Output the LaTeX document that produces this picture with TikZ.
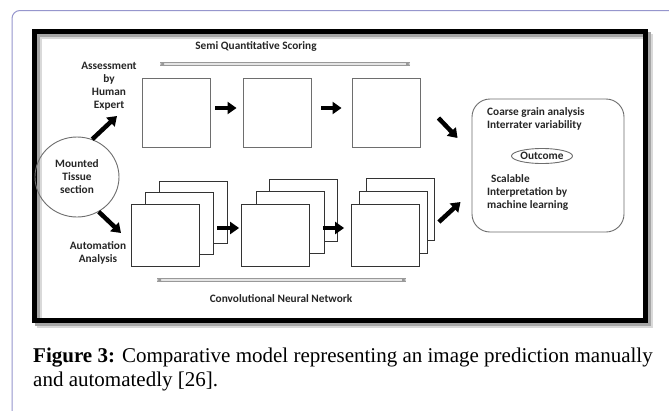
\documentclass[tikz,border=0pt]{standalone}
\usepackage{fontspec}
\setmainfont{Liberation Serif}
\newfontfamily\calfont{Carlito}
\usetikzlibrary{arrows.meta,shapes.geometric,calc}
\definecolor{framepurple}{RGB}{150,150,205}
\definecolor{boxgray}{RGB}{110,110,110}
\begin{document}
\begin{tikzpicture}[x=1pt,y=-1pt,
  lbl/.style={font=\calfont\bfseries\fontsize{11.3}{13}\selectfont, inner sep=0pt, align=center, text=black!85},
  card/.style={draw=boxgray, line width=0.9pt, fill=white, minimum width=68pt, minimum height=69pt, inner sep=0pt},
  sheet/.style={draw=black!80, line width=0.8pt, fill=white, minimum width=68pt, minimum height=62pt, inner sep=0pt},
  blk/.style={line width=4.5pt, -{Triangle[length=9pt,width=12pt]}},
  dbl/.style={draw=gray!80, double=gray!20, double distance=1.4pt, line width=0.9pt},
  dtip/.style={fill=gray!80},
]
\useasboundingbox (0,0) rectangle (669,410);
\fill[white] (0,0) rectangle (669,410);
% outer page frame
\draw[framepurple, line width=1pt, rounded corners=8pt] (680,10.5) -- (12,10.5) -- (12,420);
% black frame with shadow
\draw[line width=5pt, black!15] (39,36.5) rectangle (650,325);
\draw[line width=5pt, black!35] (37,34.5) rectangle (648,323);
\draw[line width=5pt, black] (34.5,31.5) rectangle (645,320);

% titles
\node[lbl] (sqs) at (256,46) {Semi Quantitative Scoring};
\node[lbl] (cnn) at (281,299) {Convolutional Neural Network};
\coordinate (d1a) at (160,64);
\coordinate (d1b) at (410,64);
\coordinate (d2a) at (157,280);
\coordinate (d2b) at (406,280);
\draw[dbl] (d1a) -- (d1b);
\draw[dbl] (d2a) -- (d2b);
\fill[dtip] (d1a) -- ++(4,-2) -- ++(0,4) -- cycle;
\fill[dtip] (d1b) -- ++(-4,-2) -- ++(0,4) -- cycle;
\fill[dtip] (d2a) -- ++(4,-2) -- ++(0,4) -- cycle;
\fill[dtip] (d2b) -- ++(-4,-2) -- ++(0,4) -- cycle;

% left labels and tissue
\node[lbl] (assess) at (109,86.5) {Assessment\\by\\Human\\Expert};
\node[ellipse, draw=boxgray, line width=0.9pt, minimum width=84pt, minimum height=80pt, lbl] (circ) at (77,177) {Mounted\\Tissue\\section};
\node[lbl] (auto) at (98,253) {Automation\\Analysis};

% top row
\node[card] (b1) at (176,112.5) {};
\node[card] (b2) at (277,112.5) {};
\node[card] (b3) at (386,112.5) {};

% bottom stacks
\node[sheet] (s1c) at (193.5,212) {};
\node[sheet] (s1b) at (179,223.5) {};
\node[sheet] (s1) at (165,235) {};
\node[sheet] (s2c) at (303.5,210) {};
\node[sheet] (s2b) at (290,222.5) {};
\node[sheet] (s2) at (275.5,235) {};
\node[sheet] (s3c) at (400,209.5) {};
\node[sheet] (s3b) at (393,222) {};
\node[sheet] (s3) at (385.5,235) {};

% outcome box
\node[draw=boxgray, line width=0.9pt, rounded corners=18pt, minimum width=152pt, minimum height=133pt] (rb) at (548,165.5) {};
\node[lbl, align=left, anchor=west] (coarse) at (487,119) {Coarse grain analysis\\Interrater variability};
\node[ellipse, draw=boxgray, line width=0.9pt, lbl, minimum width=58pt, minimum height=15pt] (outc) at (542,156) {Outcome};
\node[lbl, align=left, anchor=west] (scal) at (487,192) {\hspace*{4pt}Scalable\\Interpretation by\\machine learning};

% arrows
\coordinate (t1) at (117,116);
\coordinate (t2) at (121,233);
\draw[blk] (circ.68) -- (t1);
\draw[blk] (circ.-58) -- (t2);
\draw[blk] ([xshift=5pt,yshift=4.5pt]b1.east) -- ([xshift=-6pt,yshift=4.5pt]b2.west);
\draw[blk] ([xshift=10pt,yshift=4.5pt]b2.east) -- ([xshift=-10pt,yshift=4.5pt]b3.west);
\draw[blk] ([xshift=18pt,yshift=7pt]s1.east) -- ([xshift=-2pt,yshift=7pt]s2.west);
\draw[blk] ([xshift=13pt,yshift=7pt]s2.east) -- ([xshift=-7pt,yshift=7pt]s3.west);
\draw[blk] ([xshift=18pt,yshift=-5.5pt]b3.east) -- ([xshift=-14pt,yshift=27.5pt]rb.west);
\draw[blk] ([xshift=19pt,yshift=13pt]s3.east) -- ([xshift=-11pt,yshift=-36.5pt]rb.west);

% caption
\node[anchor=base west, inner sep=0pt, font=\fontsize{21}{24}\selectfont] (cap1) at (33,362) {\textbf{Figure 3:} Comparative model representing an image prediction manually};
\node[anchor=base west, inner sep=0pt, font=\fontsize{21}{24}\selectfont] (cap2) at (33,386) {and automatedly [26].};
\end{tikzpicture}
\end{document}
